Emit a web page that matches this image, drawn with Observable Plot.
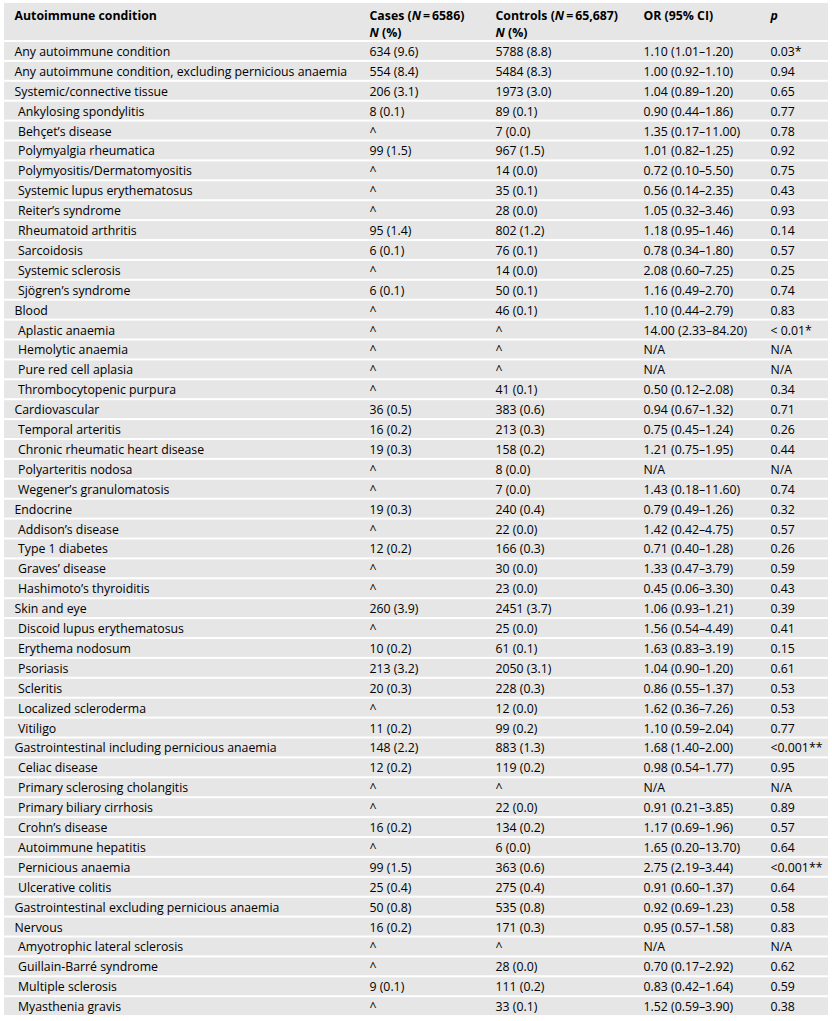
<!DOCTYPE html>
<html><head><meta charset="utf-8">
<script src="https://cdn.jsdelivr.net/npm/d3@7"></script>
<script src="https://cdn.jsdelivr.net/npm/@observablehq/plot@0.6"></script>
<style>body{margin:0;background:#fff} svg{display:block}</style>
</head><body><div id="chart"></div>
<script>
// ---- data ----
const headerLine1 = ["Autoimmune condition", "Cases (N\u2009=\u20096586)", "Controls (N\u2009=\u200965,687)", "OR (95% CI)", "p"];
const headerLine2 = ["", "N (%)", "N (%)", "", ""];

const conditions = [
  "Any autoimmune condition",
  "Any autoimmune condition, excluding pernicious anaemia",
  "Systemic/connective tissue",
  "Ankylosing spondylitis",
  "Behçet’s disease",
  "Polymyalgia rheumatica",
  "Polymyositis/Dermatomyositis",
  "Systemic lupus erythematosus",
  "Reiter’s syndrome",
  "Rheumatoid arthritis",
  "Sarcoidosis",
  "Systemic sclerosis",
  "Sjögren’s syndrome",
  "Blood",
  "Aplastic anaemia",
  "Hemolytic anaemia",
  "Pure red cell aplasia",
  "Thrombocytopenic purpura",
  "Cardiovascular",
  "Temporal arteritis",
  "Chronic rheumatic heart disease",
  "Polyarteritis nodosa",
  "Wegener’s granulomatosis",
  "Endocrine",
  "Addison’s disease",
  "Type 1 diabetes",
  "Graves’ disease",
  "Hashimoto’s thyroiditis",
  "Skin and eye",
  "Discoid lupus erythematosus",
  "Erythema nodosum",
  "Psoriasis",
  "Scleritis",
  "Localized scleroderma",
  "Vitiligo",
  "Gastrointestinal including pernicious anaemia",
  "Celiac disease",
  "Primary sclerosing cholangitis",
  "Primary biliary cirrhosis",
  "Crohn’s disease",
  "Autoimmune hepatitis",
  "Pernicious anaemia",
  "Ulcerative colitis",
  "Gastrointestinal excluding pernicious anaemia",
  "Nervous",
  "Amyotrophic lateral sclerosis",
  "Guillain-Barré syndrome",
  "Multiple sclerosis",
  "Myasthenia gravis"
];
const levels = [0,0,0,1,1,1,1,1,1,1,1,1,1,0,1,1,1,1,0,1,1,1,1,0,1,1,1,1,0,1,1,1,1,1,1,0,1,1,1,1,1,1,1,0,0,1,1,1,1];
const cases = [
  "634 (9.6)","554 (8.4)","206 (3.1)","8 (0.1)","^","99 (1.5)","^","^","^","95 (1.4)","6 (0.1)","^","6 (0.1)",
  "^","^","^","^","^",
  "36 (0.5)","16 (0.2)","19 (0.3)","^","^",
  "19 (0.3)","^","12 (0.2)","^","^",
  "260 (3.9)","^","10 (0.2)","213 (3.2)","20 (0.3)","^","11 (0.2)",
  "148 (2.2)","12 (0.2)","^","^","16 (0.2)","^","99 (1.5)","25 (0.4)","50 (0.8)",
  "16 (0.2)","^","^","9 (0.1)","^"
];
const controls = [
  "5788 (8.8)","5484 (8.3)","1973 (3.0)","89 (0.1)","7 (0.0)","967 (1.5)","14 (0.0)","35 (0.1)","28 (0.0)","802 (1.2)","76 (0.1)","14 (0.0)","50 (0.1)",
  "46 (0.1)","^","^","^","41 (0.1)",
  "383 (0.6)","213 (0.3)","158 (0.2)","8 (0.0)","7 (0.0)",
  "240 (0.4)","22 (0.0)","166 (0.3)","30 (0.0)","23 (0.0)",
  "2451 (3.7)","25 (0.0)","61 (0.1)","2050 (3.1)","228 (0.3)","12 (0.0)","99 (0.2)",
  "883 (1.3)","119 (0.2)","^","22 (0.0)","134 (0.2)","6 (0.0)","363 (0.6)","275 (0.4)","535 (0.8)",
  "171 (0.3)","^","28 (0.0)","111 (0.2)","33 (0.1)"
];
const oddsRatios = [
  "1.10 (1.01–1.20)","1.00 (0.92–1.10)","1.04 (0.89–1.20)","0.90 (0.44–1.86)","1.35 (0.17–11.00)","1.01 (0.82–1.25)","0.72 (0.10–5.50)","0.56 (0.14–2.35)","1.05 (0.32–3.46)","1.18 (0.95–1.46)","0.78 (0.34–1.80)","2.08 (0.60–7.25)","1.16 (0.49–2.70)",
  "1.10 (0.44–2.79)","14.00 (2.33–84.20)","N/A","N/A","0.50 (0.12–2.08)",
  "0.94 (0.67–1.32)","0.75 (0.45–1.24)","1.21 (0.75–1.95)","N/A","1.43 (0.18–11.60)",
  "0.79 (0.49–1.26)","1.42 (0.42–4.75)","0.71 (0.40–1.28)","1.33 (0.47–3.79)","0.45 (0.06–3.30)",
  "1.06 (0.93–1.21)","1.56 (0.54–4.49)","1.63 (0.83–3.19)","1.04 (0.90–1.20)","0.86 (0.55–1.37)","1.62 (0.36–7.26)","1.10 (0.59–2.04)",
  "1.68 (1.40–2.00)","0.98 (0.54–1.77)","N/A","0.91 (0.21–3.85)","1.17 (0.69–1.96)","1.65 (0.20–13.70)","2.75 (2.19–3.44)","0.91 (0.60–1.37)","0.92 (0.69–1.23)",
  "0.95 (0.57–1.58)","N/A","0.70 (0.17–2.92)","0.83 (0.42–1.64)","1.52 (0.59–3.90)"
];
const pValues = [
  "0.03*","0.94","0.65","0.77","0.78","0.92","0.75","0.43","0.93","0.14","0.57","0.25","0.74",
  "0.83","< 0.01*","N/A","N/A","0.34",
  "0.71","0.26","0.44","N/A","0.74",
  "0.32","0.57","0.26","0.59","0.43",
  "0.39","0.41","0.15","0.61","0.53","0.53","0.77",
  "<0.001**","0.95","N/A","0.89","0.57","0.64","<0.001**","0.64","0.58",
  "0.83","N/A","0.62","0.59","0.38"
];

// ---- layout ----
const W = 832, H = 1021;
const ROW = 19.9, TOP = 41, HEAD_TOP = 3;
const TABLE_X1 = 4, TABLE_X2 = 828;
const colX = [14, 369, 495, 643, 770];
const INDENT = 3.5;
const headY = [(15.5 - TOP) / ROW, (33 - TOP) / ROW];
const TEXT_DY = 0.6;
const FONT = "Open Sans, Noto Sans, sans-serif";
const FS = 12.3;
const INK = "#000";
const BAND = "#e6e6e6";

const columns = [conditions, cases, controls, oddsRatios, pValues];
const rowIdx = conditions.map((_, i) => i);
const cells = [];
rowIdx.forEach(i => columns.forEach((col, c) => cells.push({row: i, col: c, text: col[i], level: levels[i]})));
const headCells = [];
[headerLine1, headerLine2].forEach((line, l) => line.forEach((t, c) => { if (t) headCells.push({line: l, col: c, text: t}); }));

const svg = Plot.plot({
  width: W, height: H,
  margin: 0,
  x: {type: "linear", domain: [0, W], range: [0, W], axis: null},
  y: {type: "linear", domain: [-TOP / ROW, (H - TOP) / ROW], range: [0, H], axis: null},
  style: {background: "#fff", fontFamily: FONT},
  marks: [
    Plot.rect([0], {x1: TABLE_X1, x2: TABLE_X2, y1: -(TOP - HEAD_TOP) / ROW, y2: 0, insetBottom: 1, fill: BAND}),
    Plot.rect(rowIdx, {x1: TABLE_X1, x2: TABLE_X2, y1: d => d, y2: d => d + 1, insetTop: 1, insetBottom: 1, fill: BAND}),
    Plot.text(headCells, {
      x: d => colX[d.col], y: d => headY[d.line], text: "text",
      textAnchor: "start", lineAnchor: "middle", fontSize: FS, fontWeight: "bold", fontFamily: FONT, fill: INK
    }),
    Plot.text(cells, {
      x: d => colX[d.col] + (d.col === 0 && d.level ? INDENT : 0), y: d => d.row + 0.5, dy: TEXT_DY, text: "text",
      textAnchor: "start", lineAnchor: "middle", fontSize: FS, fontFamily: FONT, fill: INK
    })
  ]
});

// italic N and p in header
const NS = "http://www.w3.org/2000/svg";
const headerSet = new Set([...headerLine1, ...headerLine2].filter(Boolean));
d3.select(svg).selectAll("text").each(function () {
  const t = this.textContent;
  if (!headerSet.has(t)) return;
  if (t === "p") { this.setAttribute("font-style", "italic"); return; }
  if (!t.includes("N")) return;
  const parts = t.split(/(N)/);
  while (this.firstChild) this.removeChild(this.firstChild);
  parts.forEach(p => {
    if (!p) return;
    const ts = document.createElementNS(NS, "tspan");
    ts.textContent = p;
    if (p === "N") ts.setAttribute("font-style", "italic");
    this.appendChild(ts);
  });
});

document.getElementById("chart").appendChild(svg);
</script>
</body></html>
